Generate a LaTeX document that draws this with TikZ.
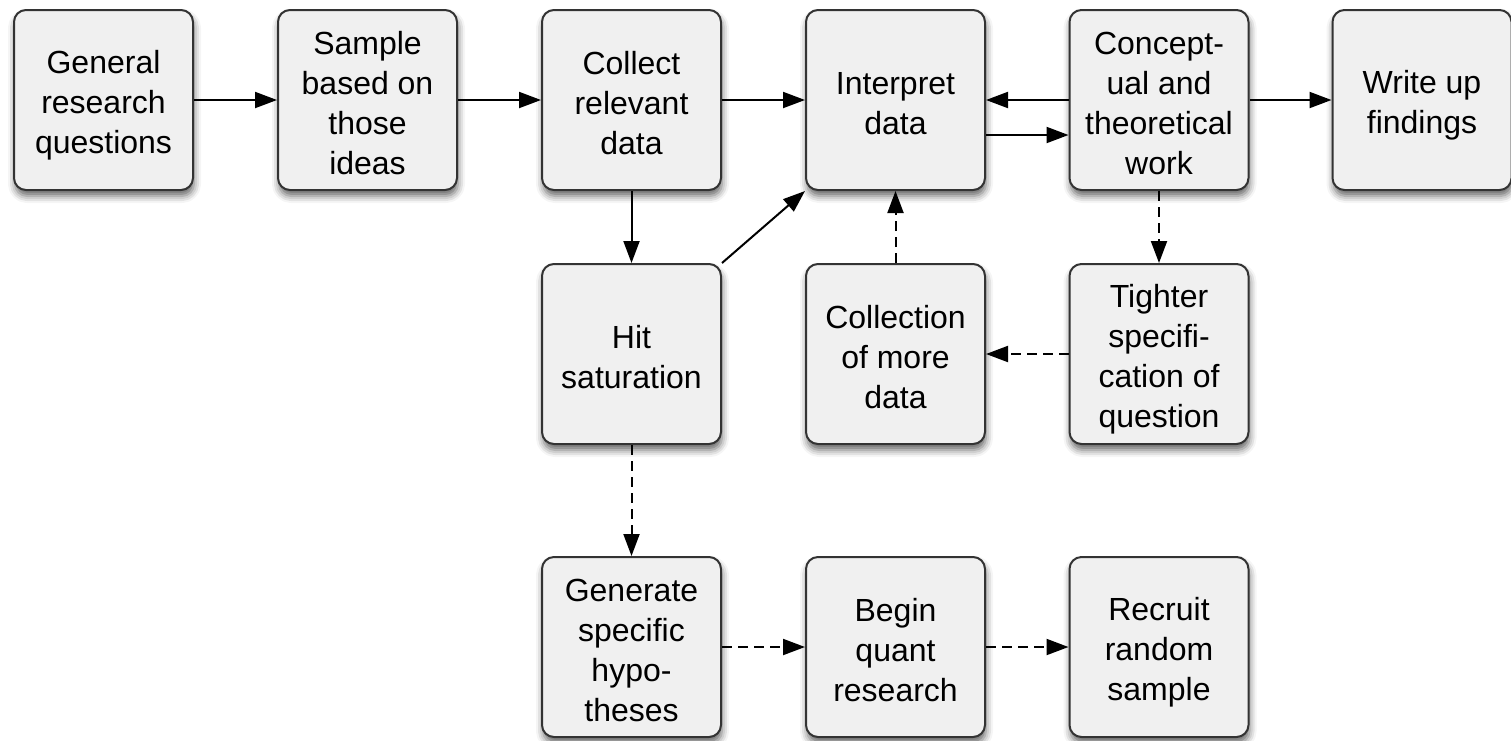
\documentclass[tikz,border=0pt]{standalone}
\usepackage{fontspec}
\setmainfont{Liberation Sans}
\usetikzlibrary{arrows.meta,shadows.blur}
\definecolor{boxfill}{HTML}{F0F0F0}
\definecolor{boxline}{HTML}{333333}
\newcommand\topst{\rule{0pt}{33pt}}
\newcommand\botst{\rule[-5pt]{0pt}{5pt}}
\tikzset{
  stepbox/.style={draw=boxline, line width=2pt, fill=boxfill, rounded corners=12pt,
    minimum width=179pt, minimum height=180pt, inner sep=0pt, align=center,
    font=\fontsize{32}{40}\selectfont,
    blur shadow={shadow xshift=1pt, shadow yshift=-6pt, shadow blur radius=7pt, shadow opacity=60}},
  conn/.style={line width=2pt, -{Triangle[length=22pt,width=16pt]}},
  dconn/.style={conn, dash pattern=on 10pt off 6pt}
}
\begin{document}
\begin{tikzpicture}[x=1pt,y=-1pt]
\useasboundingbox (0,0) rectangle (1511,740);
\node[stepbox] (gen) at (103.5,100) {\topst General\\research\\questions\botst};
\node[stepbox] (samp) at (367.5,100) {\topst Sample\\based on\\those\\ideas\botst};
\node[stepbox] (coll) at (631.5,100) {\topst Collect\\relevant\\data\botst};
\node[stepbox] (interp) at (895.5,100) {\topst Interpret\\data\botst};
\node[stepbox] (conc) at (1159,100) {\topst Concept-\\ual and\\theoretical\\work\botst};
\node[stepbox] (write) at (1422,100) {\topst Write up\\findings\botst};
\node[stepbox] (hit) at (631.5,354) {\topst Hit\\saturation\botst};
\node[stepbox] (more) at (895.5,354) {\topst Collection\\of more\\data\botst};
\node[stepbox] (tight) at (1159,354) {\topst Tighter\\specifi-\\cation of\\question\botst};
\node[stepbox] (hyp) at (631.5,647) {\topst Generate\\specific\\hypo-\\theses\botst};
\node[stepbox] (quant) at (895.5,647) {\topst Begin\\quant\\research\botst};
\node[stepbox] (recr) at (1159,647) {\topst Recruit\\random\\sample\botst};
\draw[conn] (gen) -- (samp);
\draw[conn] (samp) -- (coll);
\draw[conn] (coll) -- (interp);
\draw[conn] (conc) -- (interp);
\draw[conn] ([yshift=-35pt]interp.east) -- ([yshift=-35pt]conc.west);
\draw[conn] (conc) -- (write);
\draw[conn] (coll) -- (hit);
\draw[conn] (hit.north east) -- (interp.south west);
\draw[dconn] (more) -- (interp);
\draw[dconn] (conc) -- (tight);
\draw[dconn] (tight) -- (more);
\draw[dconn] (hit) -- (hyp);
\draw[dconn] (hyp) -- (quant);
\draw[dconn] (quant) -- (recr);
\end{tikzpicture}
\end{document}
